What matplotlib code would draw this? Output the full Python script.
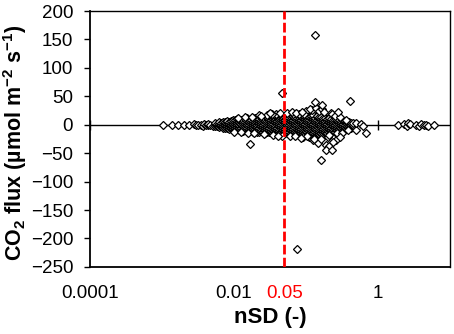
import numpy as np
import matplotlib
matplotlib.use("Agg")
import matplotlib.pyplot as plt

plt.rcParams['font.family'] = ['Liberation Sans', 'DejaVu Sans']
plt.rcParams['mathtext.fontset'] = 'custom'
plt.rcParams['mathtext.rm'] = 'Liberation Sans:bold'
plt.rcParams['mathtext.it'] = 'Liberation Sans:bold'
plt.rcParams['mathtext.bf'] = 'Liberation Sans:bold'

# sparse points on the left
x_left = [0.00103, 0.00138, 0.0017, 0.002, 0.0024, 0.0028, 0.003, 0.0032, 0.0035, 0.0037,
          0.0038, 0.0041, 0.0043, 0.0044, 0.0047, 0.0051, 0.0055]
y_left = [0, 0, 0, 0, 0, 1, 0, -1, 0, -2, 1, -1, -1, 2, 0, -2, 1]

# dense core of the cloud: one x per column, several fluxes per column
core_x = [0.0055, 0.0059, 0.0063, 0.0067, 0.0071, 0.0076, 0.0081, 0.0086, 0.0092, 0.0098,
          0.0104, 0.0111, 0.0118, 0.0126, 0.0134, 0.0143, 0.0153, 0.0163, 0.0173, 0.0185,
          0.0197, 0.021, 0.0224, 0.0238, 0.0254, 0.0271, 0.0289, 0.0308, 0.0328, 0.035,
          0.0373, 0.0397, 0.0423, 0.0451, 0.0481, 0.0513, 0.0546, 0.0582, 0.0621, 0.0662,
          0.0705, 0.0752, 0.0801, 0.0854, 0.091, 0.097, 0.1034, 0.1102, 0.1175, 0.1252,
          0.1335, 0.1423, 0.1517, 0.1617, 0.1723, 0.1837, 0.1958, 0.2087, 0.2225, 0.2371,
          0.2528, 0.2694, 0.2872, 0.3061, 0.3263, 0.3478, 0.3708, 0.3952, 0.4213, 0.449]
core_y = [
    [-2, 1, 3], [-3, 0, 2], [-4, -1, 2, 4], [-3, 0, 3], [-5, -2, 1, 4],
    [-6, -3, 0, 3, 5], [-5, -2, 1, 4, 7], [-7, -4, -1, 2, 5], [-6, -3, 0, 3, 6],
    [-8, -4, -1, 2, 5, 8],
    [-9, -5, -2, 1, 4, 8], [-8, -4, 0, 3, 7, 10], [-10, -6, -3, 0, 4, 8],
    [-9, -5, -1, 2, 6, 9], [-11, -7, -3, 1, 5, 9], [-10, -6, -2, 2, 5, 10],
    [-9, -5, -1, 3, 7, 11], [-11, -7, -4, 0, 4, 8], [-10, -6, -2, 1, 5, 9],
    [-12, -8, -4, 0, 3, 7, 11],
    [-11, -7, -3, 1, 5, 9, 12], [-12, -8, -4, 0, 4, 8, 11], [-13, -9, -5, -1, 3, 7, 10],
    [-11, -7, -3, 1, 5, 9, 13], [-12, -8, -4, 0, 4, 8, 12], [-14, -10, -6, -2, 2, 6, 10],
    [-12, -8, -4, -1, 3, 7, 11, 14], [-13, -9, -5, -1, 3, 6, 10], [-11, -7, -3, 1, 5, 9, 13],
    [-14, -10, -6, -2, 2, 6, 10, 13],
    [-12, -8, -4, 0, 4, 8, 12], [-13, -9, -5, -1, 3, 7, 11, 14], [-15, -11, -7, -3, 1, 5, 9, 12],
    [-12, -8, -4, 0, 4, 8, 12, 15], [-14, -10, -6, -2, 2, 6, 10, 13],
    [-15, -11, -7, -3, 1, 5, 9, 13], [-13, -9, -5, -1, 3, 7, 11, 15],
    [-16, -12, -8, -4, 0, 4, 8, 12], [-14, -10, -6, -2, 2, 6, 10, 14],
    [-15, -11, -7, -3, 1, 5, 9, 13, 16],
    [-13, -9, -5, -1, 3, 7, 11, 15], [-16, -12, -8, -4, 0, 4, 8, 12],
    [-14, -10, -6, -2, 2, 6, 10, 14], [-15, -11, -7, -3, 1, 5, 9, 13, 17],
    [-17, -13, -9, -5, -1, 3, 7, 11, 15],
    [-14, -10, -6, -2, 2, 6, 10, 14], [-16, -12, -8, -4, 0, 4, 8, 12, 16],
    [-15, -11, -7, -3, 1, 5, 9, 13], [-17, -13, -9, -5, -1, 3, 7, 11, 15],
    [-14, -10, -6, -2, 2, 6, 10, 14, 17],
    [-16, -12, -8, -4, 0, 4, 8, 12], [-15, -11, -7, -3, 1, 5, 9, 13, 16],
    [-17, -13, -9, -5, -1, 3, 7, 11, 14], [-14, -10, -6, -2, 2, 6, 10, 13],
    [-15, -11, -7, -3, 1, 5, 9, 12],
    [-13, -9, -5, -1, 3, 7, 11], [-14, -10, -6, -2, 2, 6, 10], [-12, -8, -4, 0, 4, 8, 11],
    [-13, -9, -5, -1, 3, 7, 10], [-11, -7, -3, 1, 5, 9],
    [-12, -8, -4, 0, 4, 8], [-10, -6, -2, 2, 6, 9], [-11, -7, -3, 1, 5, 8],
    [-9, -5, -1, 3, 7], [-10, -6, -2, 2, 6],
    [-8, -4, 0, 4, 7], [-7, -3, 1, 5], [-6, -2, 2, 5], [-5, -1, 3], [-3, 0, 3],
]

# looser points round the edges of the cloud
x_edge = [0.0101, 0.0113, 0.0127, 0.0142, 0.0158, 0.0177, 0.0193,
          0.022, 0.026, 0.031, 0.035, 0.038, 0.044, 0.047, 0.029, 0.041, 0.0237, 0.0342,
          0.055, 0.06, 0.065, 0.07, 0.08, 0.09, 0.1, 0.11, 0.12, 0.13,
          0.095, 0.115, 0.125, 0.14, 0.145, 0.105, 0.085, 0.0727, 0.0887, 0.128,
          0.15, 0.16, 0.17, 0.2, 0.22, 0.19, 0.26, 0.23, 0.18, 0.21,
          0.25, 0.27, 0.3, 0.32, 0.36, 0.38]
y_edge = [-12, 12, -13, 13, -14, 14, -15,
          17, -17, 18, -18, 19, 20, -19, 17, -20, 16, 19,
          20, -19, 22, -20, 19, -21, 24, -22, 26, -24,
          18, 28, -27, 30, -33, -19, -23, 21, 22, -25,
          25, -25, 28, -22, 20, -35, -26, 18, 22, -38,
          16, -15, 14, -14, 9, -9]

# isolated points
x_out = [0.047, 0.135, 0.076, 0.41, 0.135, 0.17, 0.28, 0.032, 0.017, 0.16,
         0.19, 0.23, 0.24, 0.21, 0.5, 0.68, 0.5, 0.3, 0.58, 0.62]
y_out = [55, 158, -218, 42, 40, 35, 22, 21, -34, -62,
         -44, -44, -30, -18, -9, -15, 3, -22, 2, -3]

# group on the right
x_right = [1.9, 2.3, 2.5, 2.6, 2.8, 3.4, 3.7, 4.0, 4.3, 4.7, 5.0, 6.0]
y_right = [0, 2, -3, 3, 1, 0, -2, 1, -1, 0, -2, 0]

x_ticks = [0.0001, 0.01, 1]
x_tick_labels = ["0.0001", "0.01", "1"]
threshold = 0.05
y_ticks = [-250, -200, -150, -100, -50, 0, 50, 100, 150, 200]

assert len(core_x) == len(core_y)
assert len(x_edge) == len(y_edge)

x_core = []
y_core = []
for cx, col in zip(core_x, core_y):
    x_core += [cx] * len(col)
    y_core += col

xs = x_left + x_core + x_edge + x_out + x_right
ys = y_left + y_core + y_edge + y_out + y_right

fig = plt.figure(figsize=(4.54, 3.34), dpi=100)
ax = fig.add_axes([0.198, 0.201, 0.793, 0.766])

ax.axhline(0, color="black", linewidth=1.0, zorder=1)
ax.plot(x_ticks, [0] * len(x_ticks), linestyle="", marker="|", markersize=7,
        markeredgewidth=1.0, color="black", zorder=1)
ax.plot(xs, ys, linestyle="", marker="D", markersize=3.6, markerfacecolor="white",
        markeredgecolor="black", markeredgewidth=0.9, zorder=2)
ax.axvline(threshold, color="red", linestyle=(0, (3.5, 1.2)), linewidth=2.0, zorder=3)

ax.set_xscale("log")
ax.set_xlim(1e-4, 10)
ax.set_ylim(-250, 200)
ax.set_xticks(x_ticks + [threshold])
ax.set_xticklabels(x_tick_labels + ["0.05"])
ax.get_xticklabels()[-1].set_color("red")
ax.minorticks_off()
ax.tick_params(axis="x", length=0, pad=13, labelsize=13.5)
ax.set_yticks(y_ticks)
ax.tick_params(axis="y", direction="out", length=4, width=1, pad=8, labelsize=13.5)

for s in ax.spines.values():
    s.set_linewidth(1.0)
ax.spines["left"].set_linewidth(1.3)
ax.spines["bottom"].set_linewidth(1.3)

ax.set_xlabel("nSD (-)", fontsize=16, fontweight="bold")
ax.xaxis.set_label_coords(0.5, -0.155)
ax.set_ylabel(r"CO$_2$ flux (µmol m$^{-2}$ s$^{-1}$)", fontsize=15.5, fontweight="bold")
ax.yaxis.set_label_coords(-0.17, 0.484)

fig.savefig("out.png", dpi=100)
